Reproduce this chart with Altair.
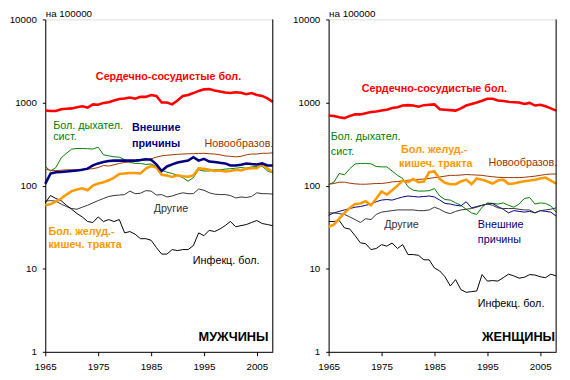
import altair as alt
import pandas as pd

YEARS = list(range(1965, 2009))

SERIES = ["Сердечно-сосудистые бол.", "Бол. дыхател. сист.", "Внешние причины",
          "Новообразов.", "Бол. желуд.-кишеч. тракта", "Другие", "Инфекц. бол."]
COLORS = ["#FF0000", "#008000", "#000080", "#993300", "#FF9900", "#333333", "#000000"]

# ---- Men (per 100000) ----
men_cvd = [800, 790, 790, 830, 840, 850, 880, 900, 870, 950, 940, 990, 1010, 1060, 1100,
           1120, 1150, 1110, 1170, 1170, 1230, 1200, 1000, 1000, 950, 1060, 1200, 1230, 1300,
           1380, 1440, 1450, 1400, 1360, 1320, 1300, 1330, 1310, 1260, 1300, 1230, 1200, 1120, 1020]
men_resp = [170, 150, 165, 215, 245, 275, 280, 280, 278, 276, 290, 235, 228, 222, 220,
            205, 190, 185, 185, 180, 182, 170, 153, 145, 140, 132, 125, 113, 125, 155,
            150, 150, 155, 155, 158, 160, 162, 165, 162, 168, 170, 172, 150, 142]
men_ext = [105, 140, 145, 146, 148, 150, 152, 155, 160, 175, 185, 192, 198, 200, 200,
           200, 200, 200, 203, 208, 205, 180, 150, 170, 180, 190, 195, 200, 220, 200,
           210, 195, 192, 188, 185, 175, 175, 178, 185, 182, 180, 185, 175, 175]
men_neo = [158, 153, 152, 153, 155, 155, 155, 157, 158, 160, 165, 175, 172, 178, 185,
           190, 193, 195, 200, 205, 210, 220, 228, 232, 235, 238, 240, 242, 242, 244,
           245, 242, 240, 235, 228, 225, 222, 225, 235, 240, 240, 245, 245, 248]
men_gi = [58, 60, 64, 70, 78, 86, 90, 93, 88, 100, 106, 110, 116, 125, 138,
          140, 142, 142, 140, 160, 172, 165, 135, 132, 127, 133, 130, 128, 133, 162,
          160, 155, 150, 152, 148, 150, 155, 152, 160, 162, 162, 182, 160, 145]
men_other = [65, 66, 65, 60, 56, 53, 52, 55, 58, 62, 66, 70, 74, 76, 77,
             78, 86, 80, 81, 87, 86, 77, 78, 73, 75, 79, 82, 80, 80, 91,
             88, 82, 79, 78, 78, 76, 71, 73, 72, 74, 82, 80, 80, 79]
men_inf = [62, 76, 70, 66, 58, 52, 46, 42, 37, 36, 42, 37, 39, 37, 39,
           27, 28, 26, 23, 23, 22, 18, 15, 15, 17, 16.5, 17, 17, 19, 27,
           25, 29, 28, 30, 33, 37, 32, 33, 34, 36, 38, 35, 34, 33]

# ---- Women (per 100000) ----
w_cvd = [700, 690, 665, 650, 690, 720, 720, 745, 770, 780, 800, 820, 860, 880, 920,
         930, 920, 890, 930, 940, 950, 830, 820, 810, 800, 850, 920, 960, 1000, 1050,
         1110, 1110, 1060, 1040, 1020, 1010, 1000, 960, 990, 920, 940, 900, 850, 800]
w_resp = [103, 110, 140, 135, 160, 182, 185, 185, 183, 170, 168, 168, 150, 133, 122,
          97, 88, 86, 86, 87, 92, 75, 68, 67, 62, 58, 52, 47, 45, 55,
          62, 61, 60, 62, 58, 55, 60, 70, 72, 60, 62, 61, 57, 48]
w_ext = [44, 47, 49, 51, 53, 55, 56, 58, 60, 64, 67, 68, 67, 70, 73,
         75, 74, 73, 74, 75, 73, 67, 61, 60, 58, 57, 64, 54, 56, 58,
         60, 61, 56, 52, 47, 50, 49, 48, 49, 47, 50, 49, 48, 43]
w_neo = [104, 106, 110, 110, 107, 105, 104, 104, 105, 106, 106, 108, 111, 112, 114,
         116, 118, 119, 120, 122, 125, 127, 130, 133, 133, 134, 136, 135, 134, 133,
         130, 128, 126, 125, 125, 125, 125, 126, 128, 130, 133, 136, 138, 138]
w_gi = [32, 34, 40, 47, 54, 60, 61, 65, 58, 70, 85, 78, 88, 100, 115,
        110, 120, 110, 112, 145, 148, 120, 108, 104, 104, 112, 118, 104, 122, 118,
        112, 106, 115, 118, 105, 106, 110, 113, 115, 118, 122, 125, 115, 106]
w_other = [47, 47, 46, 45, 42, 39, 36, 40, 39, 45, 48, 49, 50, 51, 51,
           51, 51, 50, 50, 51, 55, 52, 48, 46, 49, 51, 52, 53, 55, 58,
           60, 58, 54, 53, 53, 53, 52, 51, 51, 47, 50, 51, 52, 54]
w_inf = [37, 37, 38, 31, 30, 25, 20.5, 20, 17, 17.5, 19.5, 18.7, 20.4, 17.5, 19.5,
         14.8, 14.8, 14.5, 12.8, 12.8, 10.2, 9.4, 8.0, 6.2, 7.4, 5.6, 5.2, 5.3, 5.4, 8.5,
         7.1, 7.2, 7.1, 7.8, 8.6, 8.2, 7.7, 7.9, 8.5, 8.4, 8.0, 7.8, 8.6, 8.2]

MEN = [men_cvd, men_resp, men_ext, men_neo, men_gi, men_other, men_inf]
WOMEN = [w_cvd, w_resp, w_ext, w_neo, w_gi, w_other, w_inf]

# label annotations: (text, year, value, color, bold, align)
MEN_LABELS = [
    ("Сердечно-сосудистые бол.", 1988.3, 2030, "#FF0000", True, "center"),
    ("Бол. дыхател.", 1966.5, 528, "#008000", False, "left"),
    ("сист.", 1966.5, 379, "#008000", False, "left"),
    ("Внешние", 1981.4, 488, "#000080", True, "left"),
    ("причины", 1981.4, 320, "#000080", True, "left"),
    ("Новообразов.", 1995.1, 320, "#993300", False, "left"),
    ("Другие", 1985.5, 52.4, "#333333", False, "left"),
    ("Бол. желуд.-", 1965.6, 27.8, "#FF9900", True, "left"),
    ("кишеч. тракта", 1965.6, 19.5, "#FF9900", True, "left"),
    ("Инфекц. бол.", 1992.9, 12.2, "#000000", False, "left"),
]
WOMEN_LABELS = [
    ("Сердечно-сосудистые бол.", 1985.0, 1460, "#FF0000", True, "center"),
    ("Бол. дыхател.", 1965.4, 379, "#008000", False, "left"),
    ("сист.", 1965.4, 251, "#008000", False, "left"),
    ("Бол. желуд.-", 1978.7, 266, "#FF9900", True, "left"),
    ("кишеч. тракта", 1978.3, 181, "#FF9900", True, "left"),
    ("Новообразов.", 1995.2, 186, "#993300", False, "left"),
    ("Другие", 1975.5, 33.8, "#333333", False, "left"),
    ("Внешние", 1993.2, 33.8, "#000080", False, "left"),
    ("причины", 1993.2, 22.3, "#000080", False, "left"),
    ("Инфекц. бол.", 1993.2, 3.74, "#000000", False, "left"),
]

FONT = "Liberation Sans"
W, H = 232, 339


def panel(values, labels, corner, corner_year, thick):
    df = pd.DataFrame([
        {"year": yr, "value": v, "series": s}
        for s, vals in zip(SERIES, values) for yr, v in zip(YEARS, vals)
    ])
    x = alt.X("year:Q",
              scale=alt.Scale(domain=[1965, 2008], nice=False, zero=False),
              axis=alt.Axis(values=[1965, 1975, 1985, 1995, 2005], format="d", title=None,
                            grid=False, tickSize=4, labelPadding=6, labelFontSize=10,
                            labelFont=FONT, labelColor="black", domainColor="black",
                            tickColor="black", labelFlush=False))
    y = alt.Y("value:Q",
              scale=alt.Scale(type="log", domain=[1, 10000], nice=False),
              axis=alt.Axis(values=[1, 10, 100, 1000, 10000], format="d", grid=False,
                            tickSize=3, labelPadding=6, labelFontSize=10, labelFont=FONT,
                            labelColor="black", domainColor="black", tickColor="black",
                            title="на 100000", titleAngle=0, titleAlign="left", titleX=0,
                            titleY=-1, titleBaseline="bottom", titleFontWeight="normal",
                            titleFontSize=10, titleFont=FONT, titleColor="black"))
    color = alt.Color("series:N", scale=alt.Scale(domain=SERIES, range=COLORS), legend=None)
    base = alt.Chart(df)
    thin = [s for s in SERIES if s not in thick]
    layers = []
    for s in thin:
        layers.append(base.transform_filter(alt.datum.series == s)
                      .mark_line(strokeWidth=1).encode(x=x, y=y, color=color))
    for s in thick:
        layers.append(base.transform_filter(alt.datum.series == s)
                      .mark_line(strokeWidth=2.6).encode(x=x, y=y, color=color))
    for text, yr, val, col, bold, align in labels:
        layers.append(
            alt.Chart(pd.DataFrame({"year": [yr], "value": [val]}))
            .mark_text(text=text, color=col, font=FONT, fontSize=11,
                       fontWeight="bold" if bold else "normal", align=align,
                       baseline="middle")
            .encode(x="year:Q", y="value:Q"))
    layers.append(
        alt.Chart(pd.DataFrame({"year": [corner_year], "value": [1.52]}))
        .mark_text(text=corner, color="black", font=FONT, fontSize=13, fontWeight="bold",
                   align="right", baseline="middle")
        .encode(x="year:Q", y="value:Q"))
    layers.append(
        alt.Chart(pd.DataFrame({"a": [0]})).mark_rule(color="black", strokeWidth=1)
        .encode(x=alt.value(W), y=alt.value(0), y2=alt.value(H)))
    return alt.layer(*layers).properties(width=W, height=H)


left = panel(MEN, MEN_LABELS, "МУЖЧИНЫ", 2007.2,
             ["Сердечно-сосудистые бол.", "Бол. желуд.-кишеч. тракта", "Внешние причины"])
right = panel(WOMEN, WOMEN_LABELS, "ЖЕНЩИНЫ", 2007.8,
              ["Сердечно-сосудистые бол.", "Бол. желуд.-кишеч. тракта"])

chart = (alt.hconcat(left, right, spacing=13)
         .properties(padding={"left": 0, "top": -4, "right": 0, "bottom": 0})
         .configure_view(stroke=None)
         .configure(background="white"))

chart.save("out.html", embed_options={"renderer": "svg", "actions": False})
